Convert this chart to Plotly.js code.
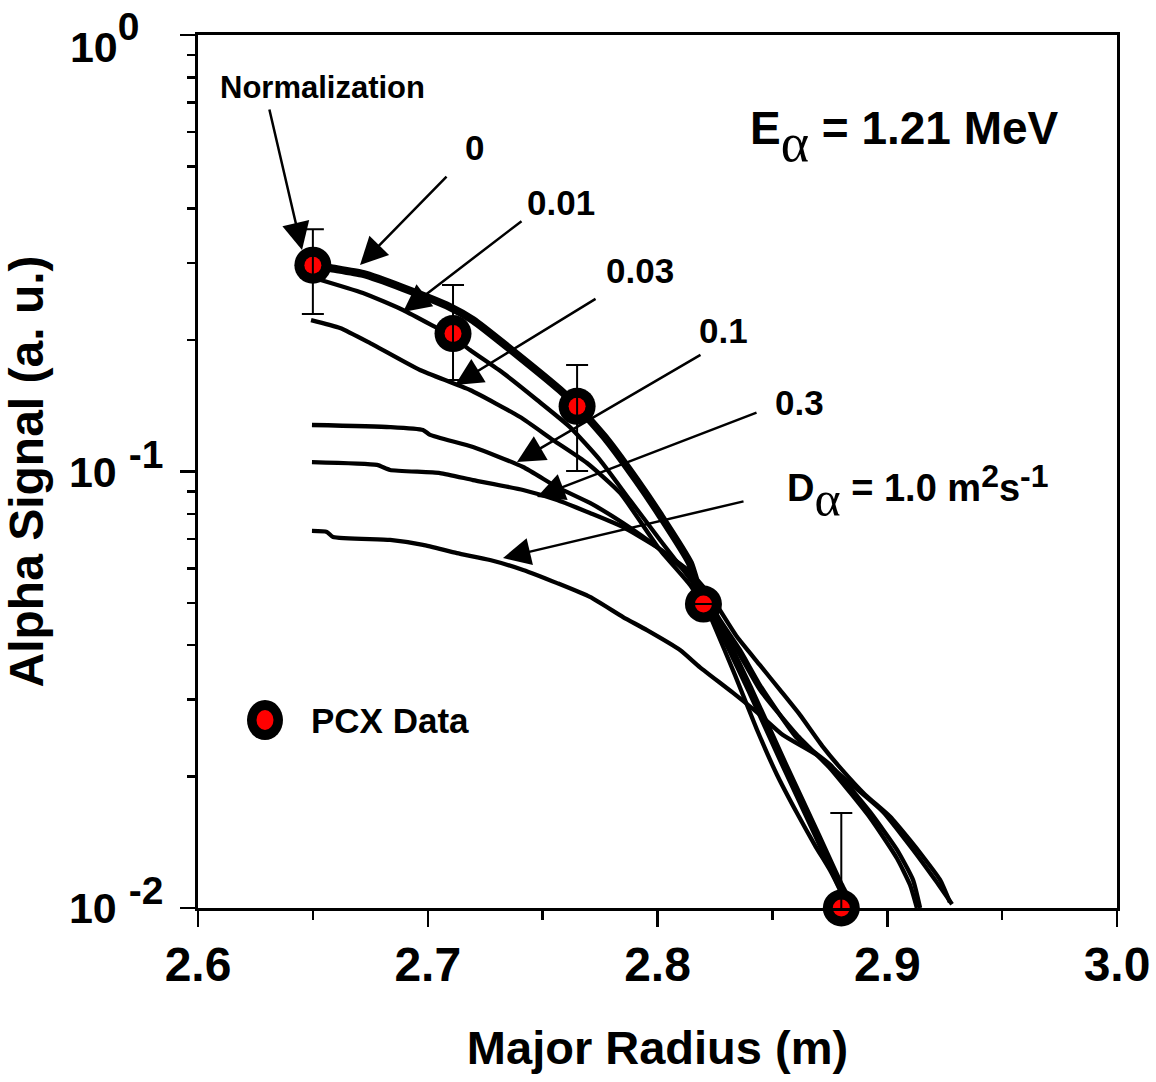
<!DOCTYPE html>
<html>
<head>
<meta charset="utf-8">
<script src="https://cdn.plot.ly/plotly-3.0.1.min.js"></script>
<style>html,body{margin:0;padding:0;background:#fff;}#chart{width:1156px;height:1082px;}</style>
</head>
<body>
<div id="chart"></div>
<script>
// PCX data points
const pcxR = [2.650, 2.711, 2.765, 2.820, 2.880];
const pcxSignal = [0.297, 0.207, 0.141, 0.0497, 0.0100];
const pcxErrTop = [0.359, 0.2675, 0.1754, null, 0.0165];
const pcxErrBottom = [0.2296, 0.162, 0.1003, null, 0.0088];

// Model curves (Major radius, alpha signal) for each diffusivity
const rD0 = [2.6505,2.6575,2.6718,2.6892,2.7097,2.7197,2.7402,2.7576,2.7654,2.7780,2.7911,2.8011,2.8141,2.8198,2.8259,2.8403,2.8546,2.8694,2.8794,2.8847];
const sD0 = [0.2972,0.2925,0.2835,0.2633,0.2381,0.2223,0.1829,0.1537,0.1405,0.1181,0.0951,0.0795,0.0617,0.0497,0.0452,0.0316,0.0216,0.0147,0.0113,0.0100];

const rD001 = [2.6505,2.6718,2.6892,2.7040,2.7106,2.7184,2.7328,2.7476,2.7619,2.7750,2.7880,2.8011,2.8155,2.8198,2.8242,2.8337,2.8433,2.8520,2.8607,2.8686,2.8751,2.8794,2.8829];
const sD001 = [0.2776,0.2564,0.2344,0.2132,0.2043,0.1898,0.1681,0.1458,0.1264,0.1062,0.0860,0.0697,0.0555,0.0508,0.0450,0.0342,0.0256,0.0202,0.0165,0.0139,0.0122,0.0110,0.0100];

const rD003 = [2.6492,2.6618,2.6749,2.6966,2.7184,2.7402,2.7545,2.7693,2.7837,2.8011,2.8141,2.8207,2.8272,2.8346,2.8446,2.8607,2.8751,2.8925,2.9042,2.9099,2.9129];
const sD003 = [0.2223,0.2132,0.1969,0.1708,0.1537,0.1333,0.1181,0.1046,0.0893,0.0661,0.0550,0.0487,0.0445,0.0390,0.0316,0.0249,0.0209,0.0161,0.0130,0.0113,0.0100];

const rD01 = [2.6496,2.6836,2.6979,2.7010,2.7197,2.7415,2.7563,2.7706,2.7850,2.7998,2.8141,2.8207,2.8272,2.8359,2.8446,2.8607,2.8751,2.8925,2.9042,2.9112,2.9143];
const sD01 = [0.1278,0.1264,0.1245,0.1213,0.1138,0.1024,0.0921,0.0847,0.0762,0.0671,0.0579,0.0521,0.0457,0.0390,0.0324,0.0245,0.0213,0.0166,0.0136,0.0116,0.0100];

const rD03 = [2.6496,2.6779,2.6836,2.7053,2.7197,2.7415,2.7563,2.7706,2.7850,2.7998,2.8141,2.8229,2.8346,2.8446,2.8533,2.8620,2.8720,2.8794,2.8903,2.9012,2.9099,2.9156,2.9230,2.9273];
const sD03 = [0.1051,0.1035,0.1008,0.0992,0.0956,0.0907,0.0860,0.0803,0.0746,0.0671,0.0589,0.0521,0.0418,0.0360,0.0316,0.0277,0.0234,0.0210,0.0182,0.0162,0.0143,0.0131,0.0116,0.0103];

const rD10 = [2.6496,2.6561,2.6588,2.6836,2.6979,2.7127,2.7271,2.7415,2.7563,2.7706,2.7850,2.7954,2.8098,2.8185,2.8329,2.8446,2.8546,2.8694,2.8838,2.8982,2.9112,2.9208,2.9282];
const sD10 = [0.0731,0.0727,0.0708,0.0697,0.0679,0.0650,0.0627,0.0595,0.0555,0.0516,0.0464,0.0433,0.0390,0.0356,0.0311,0.0277,0.0249,0.0224,0.0193,0.0166,0.0136,0.0116,0.0102];

// Tick labels
const yTickVals = [0.01, 0.1, 1];
const yTickText = [
  '10 <span style="font-size:39px;baseline-shift:19px">-2</span>',
  '10 <span style="font-size:39px;baseline-shift:19px">-1</span>',
  '<span style="baseline-shift:-12px">10</span><span style="font-size:39px;baseline-shift:10px">0</span>\u00a0\u00a0'
];
const yMinorVals = [0.02,0.03,0.04,0.05,0.06,0.07,0.08,0.09,0.2,0.3,0.4,0.5,0.6,0.7,0.8,0.9];

const FONT = 'Liberation Sans, Arial, Helvetica, sans-serif';

function curve(x, y, w) {
  return {x: x, y: y, type: 'scatter', mode: 'lines',
    line: {color: 'black', width: w, shape: 'spline', smoothing: 0.5},
    showlegend: false, hoverinfo: 'skip'};
}

const errPlus = pcxErrTop.map((v, i) => v === null ? null : v - pcxSignal[i]);
const errMinus = pcxErrBottom.map((v, i) => v === null ? null : pcxSignal[i] - v);

const traces = [
  curve(rD10, sD10, 4.3),
  curve(rD03, sD03, 4.3),
  curve(rD01, sD01, 4.3),
  curve(rD003, sD003, 4.3),
  curve(rD001, sD001, 4.3),
  curve(rD0, sD0, 8),
  {x: pcxR, y: pcxSignal, type: 'scatter', mode: 'markers', cliponaxis: false,
   marker: {symbol: 'circle', size: 37, color: 'black'}, showlegend: false},
  {x: pcxR, y: pcxSignal, type: 'scatter', mode: 'markers', cliponaxis: false,
   marker: {symbol: 'circle', size: 17, color: '#ff0000'}, showlegend: false},
  {x: pcxR, y: pcxSignal, type: 'scatter', mode: 'markers', cliponaxis: false,
   marker: {size: 1, color: 'rgba(0,0,0,0)'}, showlegend: false,
   error_y: {type: 'data', symmetric: false, array: errPlus, arrayminus: errMinus,
     color: 'black', thickness: 2, width: 11}}
];

function label(text, x, y, size, xanchor) {
  return {text: text, xref: 'paper', yref: 'paper', x: x, y: y, showarrow: false,
    xanchor: xanchor || 'center', yanchor: 'middle',
    font: {family: FONT, size: size, color: 'black', weight: 'bold'}};
}
function arrow(x, y, ax, ay) {
  return {text: '', xref: 'paper', yref: 'paper', x: x, y: y, ax: ax, ay: ay,
    showarrow: true, arrowhead: 2, arrowsize: 2.2, arrowwidth: 2.5, arrowcolor: 'black',
    standoff: 0, startstandoff: 0};
}

const alphaStyle = 'font-family:Liberation Serif;font-weight:normal;';

const annotations = [
  label('Normalization', 0.136, 0.9404, 31),
  label('0', 0.3014, 0.8717, 35),
  label('0.01', 0.395, 0.8076, 35),
  label('0.03', 0.481, 0.7308, 35),
  label('0.1', 0.5713, 0.661, 35),
  label('0.3', 0.655, 0.5796, 35),
  label('D<span style="' + alphaStyle + 'font-size:50px;baseline-shift:-15px">α</span> = 1.0 m<span style="font-size:32px;baseline-shift:14px">2</span>s<span style="font-size:32px;baseline-shift:14px">-1</span>', 0.6387, 0.4754, 38, 'left'),
  label('E<span style="' + alphaStyle + 'font-size:54px;baseline-shift:-17px">α</span> = 1.21 MeV', 0.5985, 0.883, 46, 'left'),
  label('PCX Data', 0.1208, 0.2153, 35, 'left'),
  arrow(0.1132, 0.7537, -33, -142),
  arrow(0.1763, 0.7365, 88, -90),
  arrow(0.2231, 0.6827, 120, -92),
  arrow(0.2797, 0.5991, 142, -87),
  arrow(0.3471, 0.5109, 185, -108),
  arrow(0.3689, 0.4708, 221, -85),
  arrow(0.3319, 0.4009, 242, -57)
];

const shapes = [
  {type: 'circle', xref: 'paper', yref: 'paper', xsizemode: 'pixel', ysizemode: 'pixel',
   xanchor: 0.0729, yanchor: 0.2153, x0: -18, x1: 18, y0: -20, y1: 20,
   fillcolor: 'black', line: {width: 0}},
  {type: 'circle', xref: 'paper', yref: 'paper', xsizemode: 'pixel', ysizemode: 'pixel',
   xanchor: 0.0729, yanchor: 0.2153, x0: -8.5, x1: 8.5, y0: -10, y1: 10,
   fillcolor: '#ff0000', line: {width: 0}}
];

const layout = {
  width: 1156, height: 1082,
  margin: {l: 198, r: 39, t: 35, b: 174},
  paper_bgcolor: 'white', plot_bgcolor: 'white',
  showlegend: false,
  xaxis: {
    range: [2.6, 3.0], tick0: 2.6, dtick: 0.1, tickformat: '.1f',
    ticks: 'outside', ticklen: 16, tickwidth: 2.5, tickcolor: 'black',
    minor: {dtick: 0.05, tick0: 2.6, ticks: 'outside', ticklen: 9, tickwidth: 2.5, tickcolor: 'black'},
    showline: true, linewidth: 3, linecolor: 'black', mirror: true,
    showgrid: false, zeroline: false, ticklabelstandoff: -4, ticklabeloverflow: 'allow',
    tickfont: {family: FONT, size: 48, color: 'black', weight: 'bold'},
    title: {text: 'Major Radius (m)', standoff: 42,
      font: {family: FONT, size: 47, color: 'black', weight: 'bold'}}
  },
  yaxis: {
    type: 'log', range: [-2, 0],
    tickmode: 'array', tickvals: yTickVals, ticktext: yTickText,
    ticks: 'outside', ticklen: 15, tickwidth: 2.5, tickcolor: 'black',
    minor: {tickmode: 'array', tickvals: yMinorVals, ticks: 'outside', ticklen: 8, tickwidth: 2.5, tickcolor: 'black'},
    showline: true, linewidth: 3, linecolor: 'black', mirror: true,
    showgrid: false, zeroline: false, ticklabelstandoff: 8, ticklabeloverflow: 'allow',
    tickfont: {family: FONT, size: 43, color: 'black', weight: 'bold'},
    title: {text: 'Alpha Signal (a. u.)', standoff: 12,
      font: {family: FONT, size: 48, color: 'black', weight: 'bold'}}
  },
  annotations: annotations,
  shapes: shapes
};

Plotly.newPlot('chart', traces, layout, {displayModeBar: false, staticPlot: true});
</script>
</body>
</html>
